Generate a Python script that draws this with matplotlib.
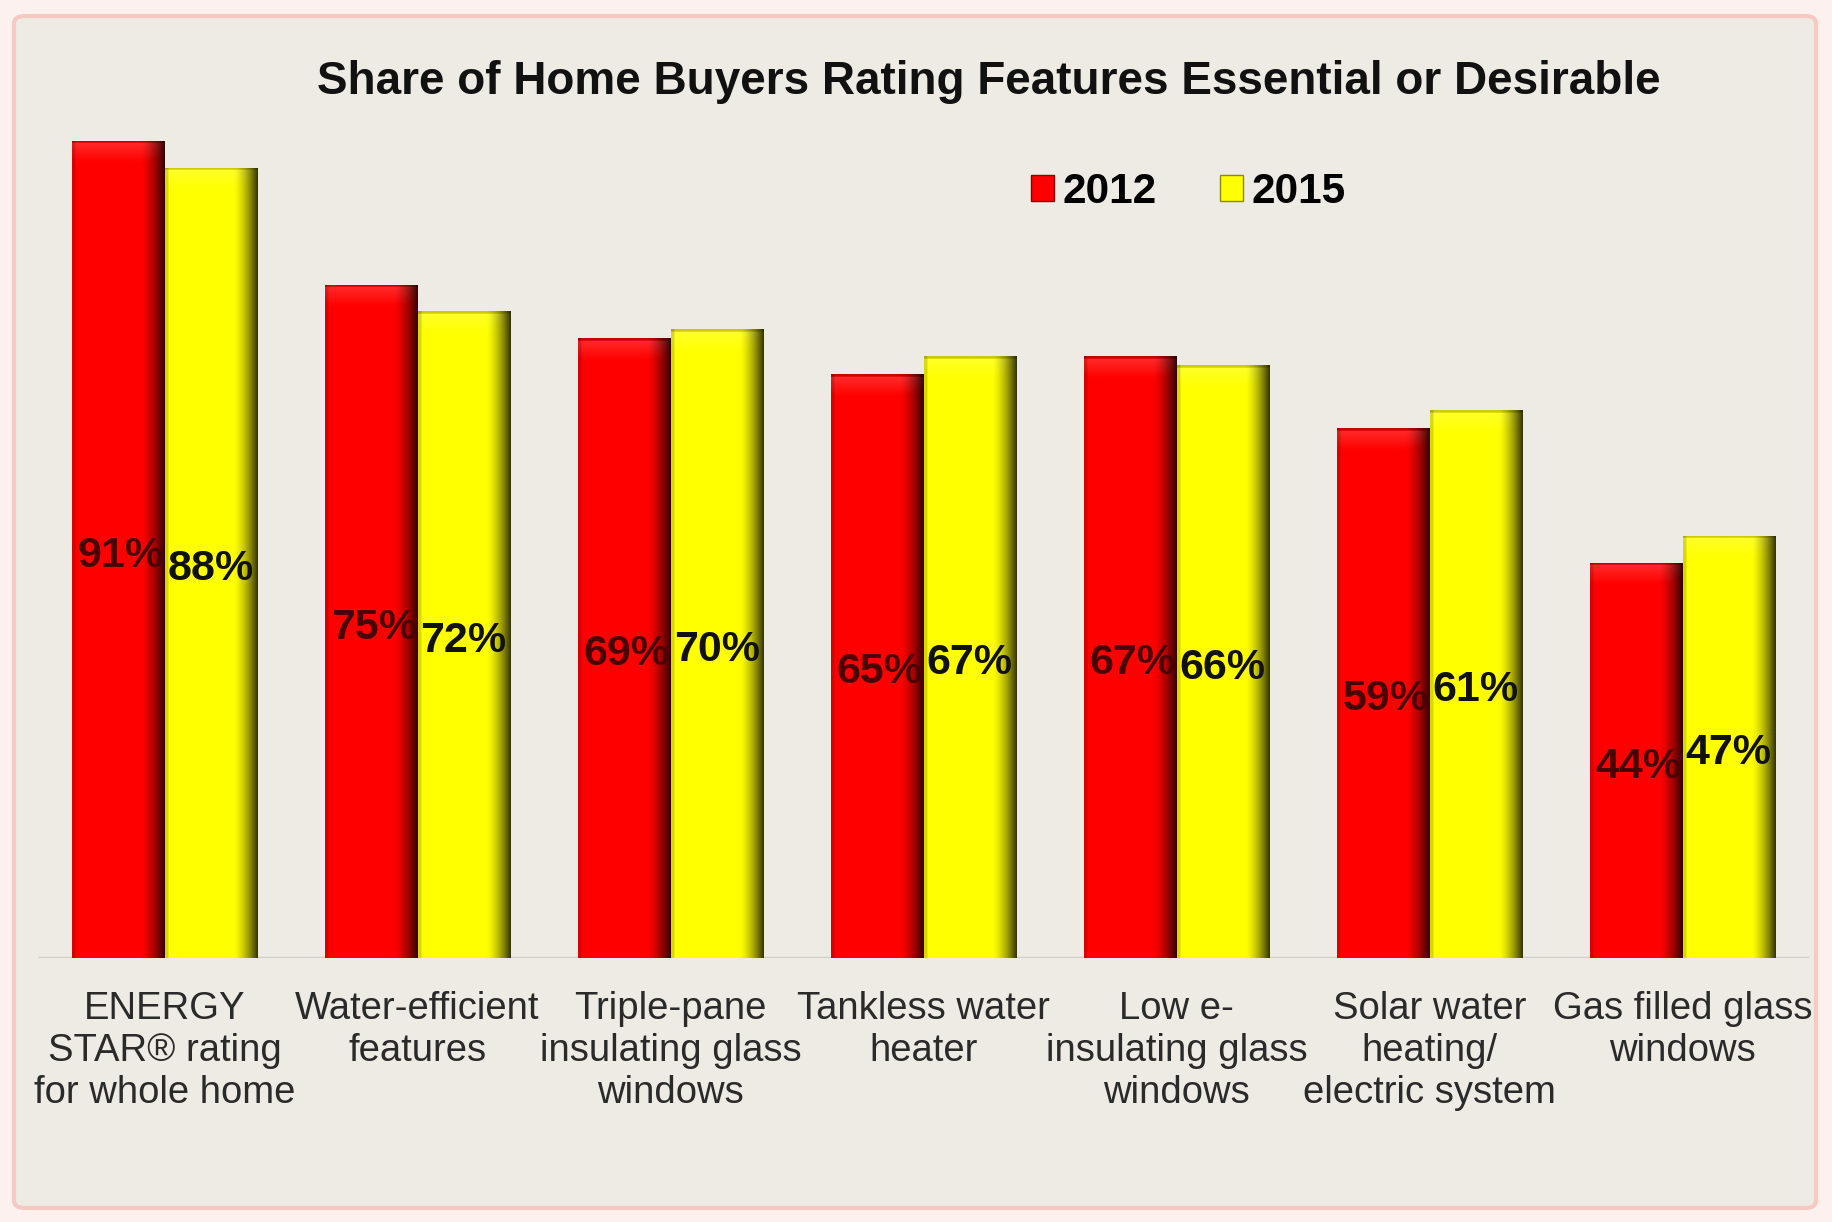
import numpy as np
import matplotlib
matplotlib.use("Agg")
import matplotlib.pyplot as plt
from matplotlib.patches import Patch, FancyBboxPatch
from matplotlib.colors import to_rgb

# ---- data -------------------------------------------------------------
categories = [
    "ENERGY\nSTAR® rating\nfor whole home",
    "Water-efficient\nfeatures",
    "Triple-pane\ninsulating glass\nwindows",
    "Tankless water\nheater",
    "Low e-\ninsulating glass\nwindows",
    "Solar water\nheating/\nelectric system",
    "Gas filled glass\nwindows",
]
series_names = ["2012", "2015"]
values_2012 = [91, 75, 69, 65, 67, 59, 44]
values_2015 = [88, 72, 70, 67, 66, 61, 47]
title = "Share of Home Buyers Rating Features Essential or Desirable"

# ---- style ------------------------------------------------------------
plt.rcParams["font.family"] = ["Liberation Sans", "DejaVu Sans"]
RED = "#FF0000"
YELLOW = "#FFFF00"
PANEL = "#EEEBE4"

W, H = 1832, 1222
fig = plt.figure(figsize=(W / 100, H / 100), dpi=100, facecolor="#FCF1EF")

# rounded panel with a soft pink border
panel = FancyBboxPatch((14 / W, 14 / H), (W - 30) / W, (H - 30) / H,
                       boxstyle="round,pad=0,rounding_size=0.006",
                       transform=fig.transFigure, facecolor=PANEL,
                       edgecolor="#F6C9C2", linewidth=3, zorder=-5)
fig.patches.append(panel)

ax = fig.add_axes([38 / W, (H - 958) / H, 1771 / W, 898 / H])
ax.set_zorder(2)
ax.set_facecolor("none")
for s in ax.spines.values():
    s.set_visible(False)

x = np.arange(len(categories))
bw = 0.365


def shaded_bar(patch, base):
    """Paint a bevelled gradient inside a bar patch."""
    x0, y0 = patch.get_x(), patch.get_y()
    w, h = patch.get_width(), patch.get_height()
    nx, ny = 80, max(int(h * 10), 10)
    u = np.linspace(0, 1, nx)
    depth = np.linspace(0, h, ny)  # distance below the bar top, top row first

    # horizontal shading: slight dark left edge, deep shadow on the right
    sh = np.ones(nx)
    right = u > 0.74
    sh[right] = 1 - 0.78 * ((u[right] - 0.74) / 0.26) ** 1.5
    sh[u < 0.03] = 0.85

    c = np.array(to_rgb(base))
    light = c + (1 - c) * 0.16
    # vertical blend: thin rim, lighter bevel fading into the base colour
    k = np.clip((depth - 0.3) / 2.1, 0, 1)[:, None]
    face = light[None, :] * (1 - k) + c[None, :] * k          # (ny, 3)
    face[depth < 0.3] = c * 0.8
    img = face[:, None, :] * sh[None, :, None]
    im = ax.imshow(img, extent=[x0, x0 + w, y0, y0 + h], aspect="auto",
                   interpolation="bilinear", zorder=2)
    im.set_clip_path(patch)


bars_a = ax.bar(x - bw / 2, values_2012, bw, color=RED, zorder=1,
                linewidth=0)
bars_b = ax.bar(x + bw / 2, values_2015, bw, color=YELLOW, zorder=1,
                linewidth=0)
for b in bars_a:
    shaded_bar(b, RED)
for b in bars_b:
    shaded_bar(b, YELLOW)

# value labels at mid-height of each bar
for b, v in zip(bars_a, values_2012):
    ax.text(b.get_x() + b.get_width() / 2 + 0.01, v / 2 - 0.2, f"{v}%",
            ha="center", va="center_baseline", fontsize=31,
            fontweight="bold", color="#4a0000", zorder=4)
for b, v in zip(bars_b, values_2015):
    ax.text(b.get_x() + b.get_width() / 2, v / 2 - 0.2, f"{v}%",
            ha="center", va="center_baseline", fontsize=31,
            fontweight="bold", color="#111111", zorder=4)

ax.axhline(0, color="#D3CFC6", linewidth=2.5, zorder=0.5)

ax.set_xlim(-0.5, len(categories) - 0.5)
ax.set_ylim(0, 100)
ax.set_yticks([])
ax.set_xticks(x)
ax.set_xticklabels(categories, fontsize=27.5, color="#2a2a2a",
                   linespacing=1.2)
ax.tick_params(axis="x", length=0, pad=24)

fig.text(989 / W, 1 - 82 / H, title, ha="center", va="center",
         fontsize=33, fontweight="bold", color="#111111")

handles = [Patch(facecolor=RED, edgecolor="#8a0000", linewidth=1),
           Patch(facecolor=YELLOW, edgecolor="#8a8a00", linewidth=1)]
ax.legend(handles, series_names, loc="center left",
          bbox_to_anchor=(1031 / W, 1 - 192 / H),
          bbox_transform=fig.transFigure, ncol=2, frameon=False,
          prop={"size": 30.5, "weight": "bold"}, handlelength=0.55,
          handleheight=0.55, handletextpad=0.2, columnspacing=1.48,
          borderpad=0, borderaxespad=0)

fig.savefig("out.png", dpi=100, facecolor=fig.get_facecolor())
